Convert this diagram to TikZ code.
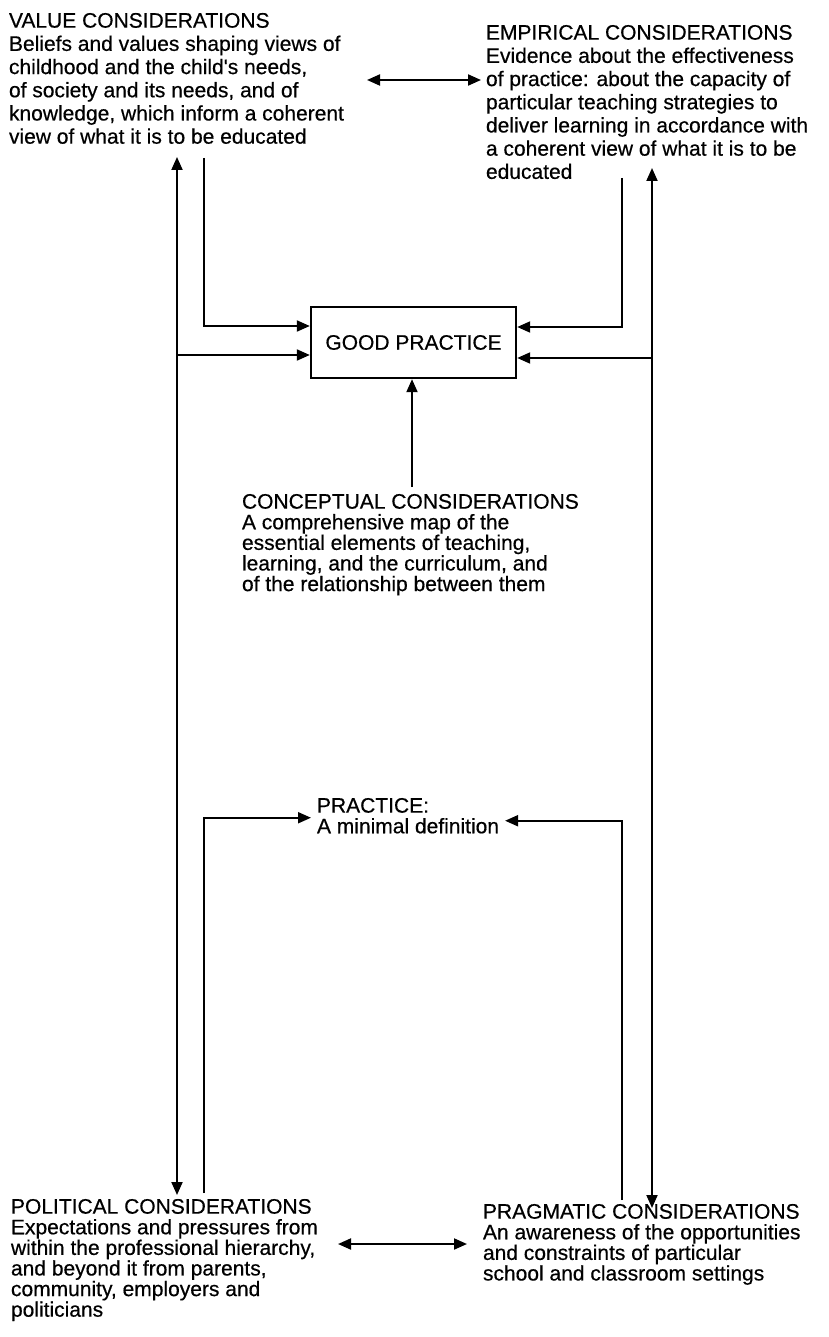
\documentclass[tikz,border=0pt]{standalone}
\usepackage{fontspec}
\setmainfont{Liberation Sans}[BoldFont={Liberation Sans},BoldFeatures={FakeBold=0.5}]
\usetikzlibrary{arrows.meta,positioning}

\begin{document}
\begin{tikzpicture}[x=1pt,y=-1pt,>={Triangle[length=13pt,width=11pt]},line width=2pt,
  txt/.style={anchor=north west,align=left,inner sep=0pt,font=\fontsize{21}{20.6}\selectfont\bfseries},
  toptxt/.style={txt,font=\fontsize{21}{23.2}\selectfont\bfseries}]
\useasboundingbox (0,0) rectangle (828,1337);
\node[toptxt] (value) at (8,12) {VALUE CONSIDERATIONS\\Beliefs and values shaping views of\\childhood and the child\textquotesingle s needs,\\of society and its needs, and of\\knowledge, which inform a coherent\\view of what it is to be educated};
\node[toptxt] (empirical) at (485,24) {EMPIRICAL CONSIDERATIONS\\Evidence about the effectiveness\\of practice: about the capacity of\\particular teaching strategies to\\deliver learning in accordance with\\a coherent view of what it is to be\\educated};
\node[draw,line width=2.4pt,minimum width=205pt,minimum height=71pt,font=\fontsize{21}{24}\selectfont\bfseries] (good) at (413.5,342.5) {GOOD PRACTICE};
\node[txt] (concept) at (241,493) {CONCEPTUAL CONSIDERATIONS\\A comprehensive map of the\\essential elements of teaching,\\learning, and the curriculum, and\\of the relationship between them};
\node[txt] (practice) at (316,797) {PRACTICE:\\A minimal definition};
\node[txt] (political) at (10,1198) {POLITICAL CONSIDERATIONS\\Expectations and pressures from\\within the professional hierarchy,\\and beyond it from parents,\\community, employers and\\politicians};
\node[txt] (pragmatic) at (482,1203) {PRAGMATIC CONSIDERATIONS\\An awareness of the opportunities\\and constraints of particular\\school and classroom settings};

\coordinate (v1) at (367,80);
\coordinate (e1) at (481,80);
\coordinate (v2) at (204,158);
\coordinate (e2) at (622,178);
\coordinate (c1) at (412,487);
\coordinate (lt) at (177,157);
\coordinate (lb) at (177,1195);
\coordinate (rt) at (652,168);
\coordinate (rb) at (652,1208);
\coordinate (p1) at (204,1193);
\coordinate (p2) at (622,1200);
\coordinate (p3) at (338,1244);
\coordinate (p4) at (467,1244);

\draw[<->] (v1) -- (e1);
\draw[<->] (p3) -- (p4);
\draw[<->] (lt) -- (lb);
\draw[<->] (rt) -- (rb);
\draw[->] (v2) |- ([yshift=16.5pt]good.west);
\draw[->] (e2) |- ([yshift=15.5pt]good.east);
\draw[->] (lt |- good.west) ++(0,12.5) -- ([yshift=-12.5pt]good.west);
\draw[->] (rt |- good.east) ++(0,15.5) -- ([yshift=-15.5pt]good.east);
\draw[->] (c1) -- (good.south -| c1);
\draw[->] (p1) |- ([xshift=-5pt,yshift=-2pt]practice.west);
\draw[->] (p2) |- ([xshift=5pt,yshift=-5pt]practice.east);
\end{tikzpicture}
\end{document}
